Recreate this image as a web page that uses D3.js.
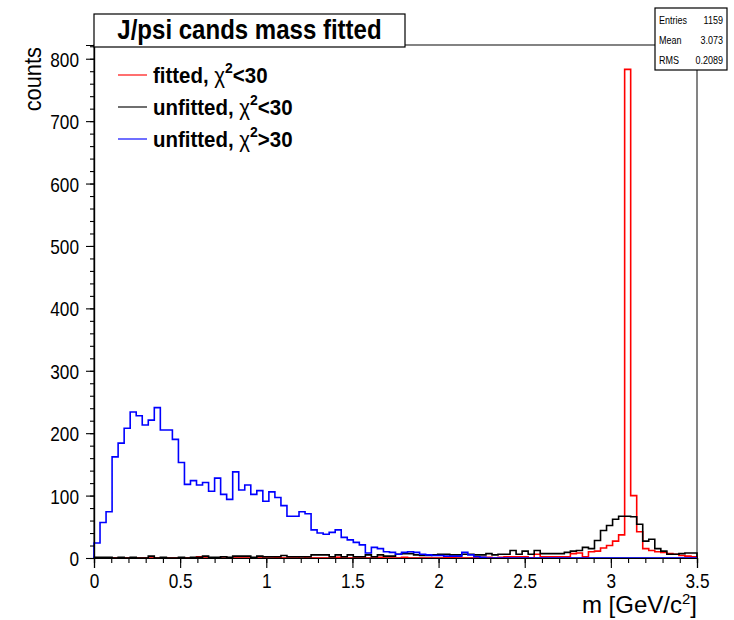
<!DOCTYPE html>
<html>
<head>
<meta charset="utf-8">
<script src="https://cdn.jsdelivr.net/npm/d3@7"></script>
<style>
  html, body { margin: 0; padding: 0; background: #fff; }
  svg text { font-family: "Liberation Sans", Arial, Helvetica, sans-serif; }
</style>
</head>
<body>
<svg id="chart" width="734" height="620"></svg>
<script>
// Dimuon candidate invariant mass, 100 bins from 0 to 3.5 GeV/c^2
const binCount = 100;
const massMin = 0;
const massMax = 3.5;

// fitted, chi2 < 30
const fittedLowChi2 = [
  0, 0, 0, 0, 0, 0, 0, 0, 0, 0,
  0, 0, 0, 0, 0, 0, 0, 2, 0, 0,
  0, 2, 0, 0, 0, 0, 0, 0, 0, 0,
  1, 0, 0, 0, 2, 0, 0, 0, 0, 0,
  1, 0, 0, 0, 0, 0, 0, 1, 0, 0,
  0, 1, 0, 0, 0, 0, 0, 0, 1, 1,
  0, 0, 0, 1, 1, 1, 0, 1, 2, 2,
  2, 2, 0, 6, 2, 2, 2, 2, 2, 7,
  8, 2, 10, 11, 16, 20, 27, 37, 783, 100,
  42, 15, 12, 10, 9, 7, 6, 4, 3, 2
];

// unfitted, chi2 < 30
const unfittedLowChi2 = [
  1, 1, 1, 0, 1, 0, 1, 0, 0, 3,
  0, 1, 0, 0, 1, 0, 1, 1, 3, 1,
  1, 2, 1, 3, 3, 3, 1, 3, 2, 2,
  2, 4, 2, 2, 2, 2, 5, 5, 5, 2,
  5, 2, 5, 2, 2, 5, 2, 5, 3, 3,
  6, 7, 7, 5, 4, 4, 5, 6, 6, 5,
  5, 6, 6, 5, 5, 7, 5, 6, 6, 12,
  6, 11, 6, 12, 7, 7, 7, 7, 9, 11,
  12, 17, 15, 28, 44, 52, 62, 67, 67, 66,
  54, 27, 30, 15, 11, 6, 6, 7, 8, 8
];

// unfitted, chi2 > 30
const unfittedHighChi2 = [
  24, 57, 74, 162, 184, 208, 234, 228, 213, 221,
  241, 205, 205, 190, 153, 118, 124, 117, 121, 107,
  128, 102, 94, 138, 109, 117, 102, 108, 91, 106,
  97, 84, 67, 67, 74, 71, 45, 40, 38, 41,
  45, 33, 29, 25, 21, 8, 17, 15, 10, 9,
  6, 9, 10, 9, 6, 5, 4, 4, 3, 3,
  3, 9, 5, 2, 1, 0, 0, 0, 0, 0,
  0, 0, 0, 0, 0, 0, 0, 0, 0, 0,
  0, 0, 0, 0, 0, 0, 0, 0, 0, 0,
  0, 0, 0, 0, 0, 0, 0, 0, 0, 0
];

const seriesNames = ["fitted, χ²<30", "unfitted, χ²<30", "unfitted, χ²>30"];
const seriesColors = ["#ff0000", "#000000", "#0000ff"];
const seriesValues = [fittedLowChi2, unfittedLowChi2, unfittedHighChi2];

const xMajorTicks = [0, 0.5, 1, 1.5, 2, 2.5, 3, 3.5];
const xTickLabels = ["0", "0.5", "1", "1.5", "2", "2.5", "3", "3.5"];
const yMajorTicks = [0, 100, 200, 300, 400, 500, 600, 700, 800];
const yMax = 822;

const titleText = "J/psi cands mass fitted";
const statsLabels = ["Entries", "Mean", "RMS"];
const statsValues = ["1159", "3.073", "0.2089"];

// ---------------------------------------------------------------
const svg = d3.select("#chart");
const frame = { left: 94, right: 697, top: 45, bottom: 558 };
const narrow = 0.82;   // horizontal squeeze for tick labels

const x = d3.scaleLinear().domain([massMin, massMax]).range([frame.left, frame.right]);
const y = d3.scaleLinear().domain([0, yMax]).range([frame.bottom, frame.top]);
const binWidth = (massMax - massMin) / binCount;

// frame
svg.append("rect")
  .attr("x", frame.left).attr("y", frame.top)
  .attr("width", frame.right - frame.left)
  .attr("height", frame.bottom - frame.top)
  .attr("fill", "none").attr("stroke", "#333").attr("stroke-width", 1.2);

// histograms as step outlines
const stepLine = d3.line()
  .x(d => x(d[0])).y(d => y(d[1]))
  .curve(d3.curveStepAfter);

seriesValues.forEach((vals, si) => {
  const pts = [[massMin, 0]];
  vals.forEach((v, i) => pts.push([massMin + i * binWidth, v]));
  pts.push([massMax, vals[vals.length - 1]]);
  pts.push([massMax, 0]);
  svg.append("path")
    .attr("d", stepLine(pts))
    .attr("fill", "none")
    .attr("stroke", seriesColors[si])
    .attr("stroke-width", 1.6);
});

// axes: minor and major ticks, pointing outward
const yMinor = svg.append("g").attr("transform", `translate(${frame.left},0)`)
  .call(d3.axisLeft(y).tickValues(d3.range(0, yMax, 20)).tickSize(4).tickFormat(""));
const yMajor = svg.append("g").attr("transform", `translate(${frame.left},0)`)
  .call(d3.axisLeft(y).tickValues(yMajorTicks).tickSize(8).tickFormat(d3.format("d")));
const xMinor = svg.append("g").attr("transform", `translate(0,${frame.bottom})`)
  .call(d3.axisBottom(x).tickValues(d3.range(0, 35.5, 1).map(v => v / 10)).tickSize(5).tickFormat(""));
const xMajor = svg.append("g").attr("transform", `translate(0,${frame.bottom})`)
  .call(d3.axisBottom(x).tickValues(xMajorTicks).tickSize(10)
    .tickFormat((d, i) => xTickLabels[i]));

[yMinor, yMajor, xMinor, xMajor].forEach(g => {
  g.selectAll(".domain").attr("stroke", "#000").attr("stroke-width", 1.2);
  g.selectAll(".tick line").attr("stroke", "#000").attr("stroke-width", 1.1);
});

yMajor.selectAll(".tick text")
  .attr("x", null).attr("dy", null)
  .attr("font-size", 21).attr("fill", "#000")
  .attr("text-anchor", "end")
  .attr("transform", `translate(-15,7.5) scale(${narrow},1)`);

xMajor.selectAll(".tick text")
  .attr("y", null).attr("dy", null)
  .attr("font-size", 21).attr("fill", "#000")
  .attr("text-anchor", "middle")
  .attr("transform", `translate(0,30) scale(${narrow},1)`);

// axis titles
svg.append("text")
  .attr("transform", `translate(${frame.right},613) scale(1,1)`)
  .attr("text-anchor", "end").attr("font-size", 24)
  .html('m [GeV/c<tspan dy="-9" font-size="15">2</tspan><tspan dy="9">]</tspan>');

svg.append("text")
  .attr("transform", `translate(41,47) rotate(-90) scale(0.95,1)`)
  .attr("text-anchor", "end").attr("font-size", 23)
  .text("counts");

// legend
const legend = svg.append("g");
seriesNames.forEach((name, i) => {
  const ly = 75 + i * 32;
  legend.append("line")
    .attr("x1", 118).attr("x2", 147).attr("y1", ly).attr("y2", ly)
    .attr("stroke", seriesColors[i]).attr("stroke-width", 1.6).attr("opacity", 0.7);
  const t = legend.append("text")
    .attr("transform", `translate(153,${ly + 8}) scale(0.93,1)`)
    .attr("font-size", 22).attr("font-weight", "bold");
  const parts = name.split("χ²");
  t.append("tspan").text(parts[0]);
  t.append("tspan").attr("font-weight", "normal").text("χ");
  t.append("tspan").attr("dy", -10).attr("font-size", 15).text("2");
  t.append("tspan").attr("dy", 10).text(parts[1]);
});

// title box
svg.append("rect")
  .attr("x", 94).attr("y", 14).attr("width", 311).attr("height", 33)
  .attr("fill", "#fff").attr("stroke", "#000").attr("stroke-width", 1.2);
svg.append("text")
  .attr("transform", `translate(249.5,39) scale(0.89,1)`)
  .attr("text-anchor", "middle").attr("font-size", 27).attr("font-weight", "bold")
  .text(titleText);

// statistics box
svg.append("rect")
  .attr("x", 655).attr("y", 8).attr("width", 72).attr("height", 62)
  .attr("fill", "#fff").attr("stroke", "#000").attr("stroke-width", 1.2);
statsLabels.forEach((lab, i) => {
  const by = 24 + i * 20;
  svg.append("text")
    .attr("transform", `translate(659,${by}) scale(${narrow},1)`)
    .attr("font-size", 11).text(lab);
  svg.append("text")
    .attr("transform", `translate(723,${by}) scale(${narrow},1)`)
    .attr("text-anchor", "end").attr("font-size", 11).text(statsValues[i]);
});
</script>
</body>
</html>
